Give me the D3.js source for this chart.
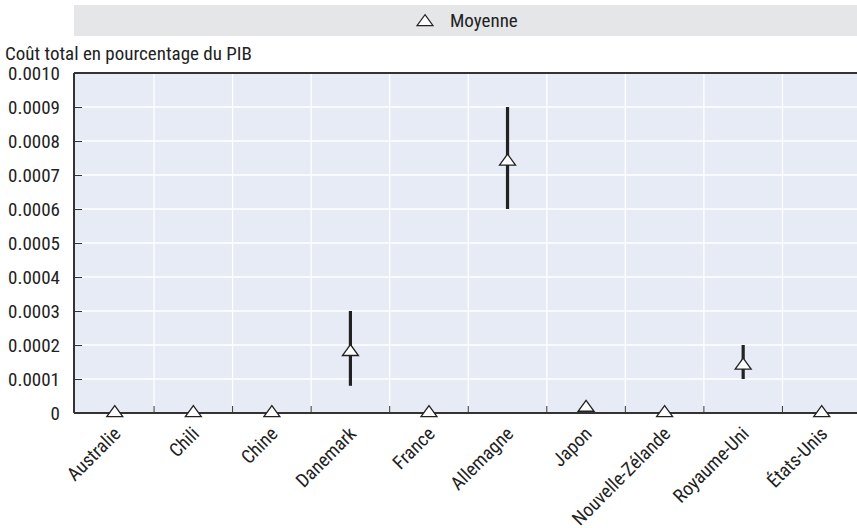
<!DOCTYPE html>
<html>
<head>
<meta charset="utf-8">
<script src="https://cdn.jsdelivr.net/npm/d3@7"></script>
<style>
  body { margin: 0; background: #fff; }
  text { font-family: "Liberation Sans Narrow", "Arial Narrow", "Roboto Condensed", sans-serif; fill: #222; }
</style>
</head>
<body>
<script>
// values
const countries = ["Australie", "Chili", "Chine", "Danemark", "France", "Allemagne", "Japon", "Nouvelle-Zélande", "Royaume-Uni", "États-Unis"];
const means = [0, 0, 0, 0.00018, 0, 0.00074, 0.000016, 0, 0.00014, 0];
const lows  = [null, null, null, 0.00008, null, 0.0006, null, null, 0.0001, null];
const highs = [null, null, null, 0.0003, null, 0.0009, null, null, 0.0002, null];
const yTicks = [0, 0.0001, 0.0002, 0.0003, 0.0004, 0.0005, 0.0006, 0.0007, 0.0008, 0.0009, 0.0010];

const width = 857, height = 528;
const margin = {top: 73, bottom: 115, left: 74};
const fs = 19;

const svg = d3.select("body").append("svg")
  .attr("width", width)
  .attr("height", height);

// plot runs a little past the right edge of the window
const x = d3.scaleBand()
  .domain(countries)
  .range([75.5, 861]);

const y = d3.scaleLinear()
  .domain([0, 0.001])
  .range([height - margin.bottom, margin.top]);

// flattened triangle marker
const flatTri = {
  draw(ctx) {
    ctx.moveTo(0, -7.3);
    ctx.lineTo(8, 3.7);
    ctx.lineTo(-8, 3.7);
    ctx.closePath();
  }
};
const tri = d3.symbol().type(flatTri);

// legend strip
svg.append("rect")
  .attr("x", margin.left).attr("y", 5)
  .attr("width", width - margin.left).attr("height", 31)
  .attr("fill", "#e5e6e8");
svg.append("path")
  .attr("d", tri())
  .attr("transform", "translate(425,22)")
  .attr("fill", "#fff").attr("stroke", "#222").attr("stroke-width", 1.2);
svg.append("text")
  .attr("x", 450).attr("y", 27)
  .attr("font-size", fs)
  .text("Moyenne");

// axis title
svg.append("text")
  .attr("x", 5).attr("y", 60)
  .attr("font-size", fs)
  .text("Coût total en pourcentage du PIB");

// plot background
svg.append("rect")
  .attr("x", margin.left).attr("y", margin.top)
  .attr("width", width - margin.left)
  .attr("height", height - margin.top - margin.bottom)
  .attr("fill", "#e7ebf6");

// horizontal gridlines
svg.append("g")
  .selectAll("line")
  .data(yTicks.slice(1, -1))
  .join("line")
    .attr("x1", margin.left).attr("x2", width)
    .attr("y1", d => y(d)).attr("y2", d => y(d))
    .attr("stroke", "#fff").attr("stroke-width", 1.3);

// vertical gridlines at band boundaries
const bounds = countries.slice(1).map(c => x(c));
svg.append("g")
  .selectAll("line")
  .data(bounds)
  .join("line")
    .attr("x1", d => d).attr("x2", d => d)
    .attr("y1", margin.top).attr("y2", height - margin.bottom)
    .attr("stroke", "#fff").attr("stroke-width", 1.3);

// y axis
const yAxis = svg.append("g")
  .attr("transform", `translate(${margin.left},0)`)
  .call(d3.axisRight(y).tickValues(yTicks).tickSize(8).tickFormat(d => d === 0 ? "0" : d.toFixed(4)));
yAxis.select(".domain").remove();
yAxis.selectAll(".tick line").attr("stroke", "#333").attr("stroke-width", 1);
yAxis.selectAll(".tick text")
  .attr("x", -14).attr("text-anchor", "end")
  .attr("font-size", fs).attr("fill", "#222")
  .attr("font-family", "Liberation Sans Narrow, Arial Narrow, sans-serif");

// x tick marks (upward, at band boundaries)
svg.append("g")
  .selectAll("line")
  .data(bounds)
  .join("line")
    .attr("x1", d => d).attr("x2", d => d)
    .attr("y1", height - margin.bottom).attr("y2", height - margin.bottom - 7)
    .attr("stroke", "#333").attr("stroke-width", 1);

// frame lines: left, top, bottom
svg.append("line")
  .attr("x1", margin.left).attr("x2", margin.left)
  .attr("y1", margin.top).attr("y2", height - margin.bottom)
  .attr("stroke", "#333").attr("stroke-width", 2);
svg.append("line")
  .attr("x1", margin.left).attr("x2", width)
  .attr("y1", margin.top).attr("y2", margin.top)
  .attr("stroke", "#333").attr("stroke-width", 2);
svg.append("line")
  .attr("x1", margin.left).attr("x2", width)
  .attr("y1", height - margin.bottom).attr("y2", height - margin.bottom)
  .attr("stroke", "#333").attr("stroke-width", 2);

// x labels rotated
svg.append("g")
  .selectAll("text")
  .data(countries)
  .join("text")
    .attr("transform", d => `translate(${x(d) + x.bandwidth() / 2 + 7},${height - margin.bottom + 22}) rotate(-45)`)
    .attr("text-anchor", "end")
    .attr("font-size", fs)
    .text(d => d);

// error bars
const rows = countries.map((c, i) => ({c, m: means[i], lo: lows[i], hi: highs[i]}));
svg.append("g")
  .selectAll("line")
  .data(rows.filter(r => r.lo !== null))
  .join("line")
    .attr("x1", r => x(r.c) + x.bandwidth() / 2)
    .attr("x2", r => x(r.c) + x.bandwidth() / 2)
    .attr("y1", r => y(r.lo)).attr("y2", r => y(r.hi))
    .attr("stroke", "#222").attr("stroke-width", 3.2);

// mean markers
svg.append("g")
  .selectAll("path")
  .data(rows)
  .join("path")
    .attr("d", tri())
    .attr("transform", r => `translate(${x(r.c) + x.bandwidth() / 2},${y(r.m)})`)
    .attr("fill", "#fff").attr("stroke", "#222").attr("stroke-width", 1.3);
</script>
</body>
</html>
